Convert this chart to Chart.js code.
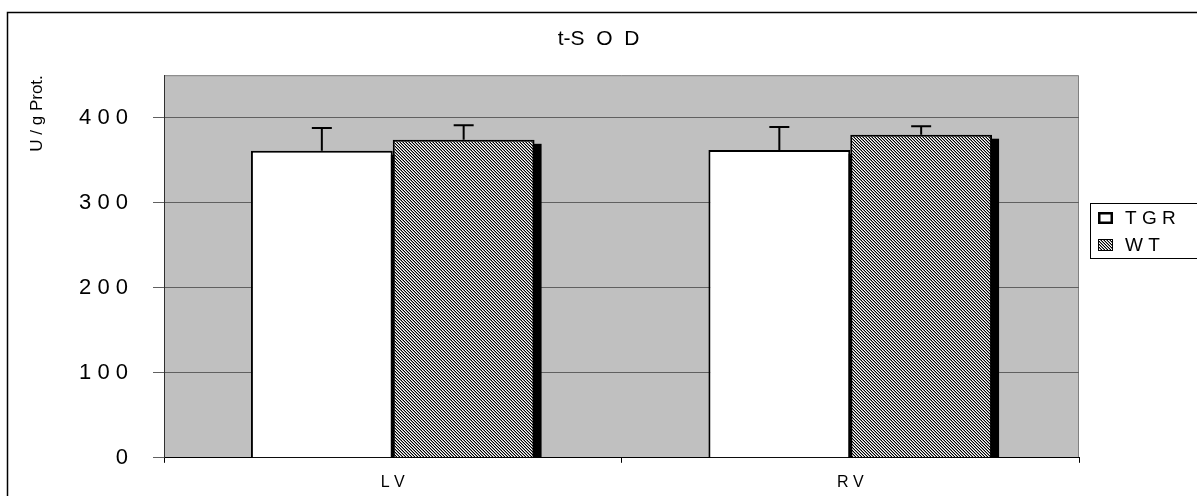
<!DOCTYPE html>
<html>
<head>
<meta charset="utf-8">
<script src="https://cdn.jsdelivr.net/npm/chart.js@4.4.1/dist/chart.umd.min.js"></script>
<style>
  html, body { margin: 0; padding: 0; background: #fff; }
  #wrap { width: 1197px; height: 496px; }
</style>
</head>
<body>
<div id="wrap"><canvas id="chart" width="1197" height="496"></canvas></div>
<script>
// values
const categories = ['L V', 'R V'];
const seriesNames = ['T G R', 'W T'];
const tgrValues = [361, 362];
const tgrErrors = [27, 27];
const wtValues = [374, 380];
const wtErrors = [17, 10];
const yTickValues = [0, 100, 200, 300, 400];
const yTickLabels = ['0', '1 0 0', '2 0 0', '3 0 0', '4 0 0'];
const yMax = 450;

const FONT = 'Liberation Sans, Arial, sans-serif';

// diagonal hatch like the old excel fill
function makeHatch() {
    const c = document.createElement('canvas');
    c.width = 3; c.height = 3;
    const g = c.getContext('2d');
    for (let y = 0; y < 3; y++) {
        for (let x = 0; x < 3; x++) {
            const k = ((x - y) % 3 + 3) % 3;
            g.fillStyle = k === 0 ? '#000' : (k === 1 ? '#fff' : '#909090');
            g.fillRect(x, y, 1, 1);
        }
    }
    return g.createPattern(c, 'repeat');
}
const hatch = makeHatch();

const errors = [tgrErrors, wtErrors];

const framePlugin = {
    id: 'frame',
    beforeDraw(chart) {
        const { ctx, chartArea: a } = chart;
        ctx.save();
        ctx.fillStyle = '#c0c0c0';
        ctx.fillRect(a.left, a.top, a.right - a.left, a.bottom - a.top);
        ctx.strokeStyle = '#808080';
        ctx.lineWidth = 1;
        ctx.beginPath();
        ctx.moveTo(a.left, a.top + 0.5);
        ctx.lineTo(a.right - 0.5, a.top + 0.5);
        ctx.lineTo(a.right - 0.5, a.bottom);
        ctx.stroke();
        ctx.restore();
    },
    beforeDatasetsDraw(chart) {
        // drop shadow behind the bars
        const { ctx, chartArea: a } = chart;
        ctx.save();
        ctx.beginPath();
        ctx.rect(a.left, a.top, a.right - a.left, a.bottom - a.top);
        ctx.clip();
        ctx.fillStyle = '#000';
        chart.data.datasets.forEach((ds, i) => {
            chart.getDatasetMeta(i).data.forEach(bar => {
                const p = bar.getProps(['x', 'y', 'base', 'width'], true);
                ctx.fillRect(p.x - p.width / 2 + 7, p.y + 4, p.width, p.base - p.y);
            });
        });
        ctx.restore();
    },
    afterDatasetsDraw(chart) {
        const { ctx } = chart;
        const yScale = chart.scales.y;
        ctx.save();
        ctx.strokeStyle = '#000';
        ctx.lineWidth = 2;
        chart.data.datasets.forEach((ds, i) => {
            chart.getDatasetMeta(i).data.forEach((bar, j) => {
                const p = bar.getProps(['x', 'y'], true);
                const top = yScale.getPixelForValue(ds.data[j] + errors[i][j]);
                ctx.beginPath();
                ctx.moveTo(p.x, p.y);
                ctx.lineTo(p.x, top);
                ctx.moveTo(p.x - 10, top);
                ctx.lineTo(p.x + 10, top);
                ctx.stroke();
            });
        });
        ctx.restore();
    },
    afterDraw(chart) {
        const { ctx } = chart;
        ctx.save();
        // outer border
        ctx.strokeStyle = '#000';
        ctx.lineWidth = 1.5;
        ctx.beginPath();
        ctx.moveTo(7.5, 500);
        ctx.lineTo(7.5, 12.5);
        ctx.lineTo(1200, 12.5);
        ctx.stroke();

        // legend
        ctx.lineWidth = 1;
        ctx.strokeRect(1090.5, 203.5, 110, 55);
        const fills = ['#fff', hatch];
        ctx.font = '19px ' + FONT;
        ctx.textBaseline = 'middle';
        ctx.textAlign = 'left';
        seriesNames.forEach((name, i) => {
            const y = 212 + i * 27;
            ctx.fillStyle = fills[i];
            ctx.fillRect(1098, y, 15, 12);
            ctx.lineWidth = i === 0 ? 2.5 : 1;
            ctx.strokeRect(1098 + ctx.lineWidth / 2, y + ctx.lineWidth / 2, 15 - ctx.lineWidth, 12 - ctx.lineWidth);
            ctx.fillStyle = '#000';
            ctx.fillText(name, 1125, y + 7);
        });
        ctx.restore();
    }
};

const ctx = document.getElementById('chart').getContext('2d');
new Chart(ctx, {
    type: 'bar',
    data: {
        labels: categories,
        datasets: [
            {
                label: seriesNames[0],
                data: tgrValues,
                backgroundColor: '#ffffff',
                borderColor: '#000',
                borderWidth: 2,
                borderSkipped: 'bottom',
            },
            {
                label: seriesNames[1],
                data: wtValues,
                backgroundColor: hatch,
                borderColor: '#000',
                borderWidth: 2,
                borderSkipped: 'bottom',
            },
        ],
    },
    options: {
        responsive: false,
        animation: false,
        layout: { padding: 0 },
        categoryPercentage: 0.62,
        barPercentage: 1,
        plugins: {
            legend: { display: false },
            tooltip: { enabled: false },
            title: {
                display: true,
                text: 't-S  O  D',
                color: '#000',
                font: { family: FONT, size: 21, weight: 'normal' },
                padding: { top: 27, bottom: 23 },
            },
        },
        scales: {
            x: {
                grid: { display: true, drawOnChartArea: false, drawTicks: true, tickLength: 5, color: '#000' },
                border: { display: true, color: '#000', width: 1 },
                ticks: { color: '#000', font: { family: FONT, size: 16 }, padding: 10, maxRotation: 0 },
                afterFit(scale) { scale.height = 36; },
            },
            y: {
                min: 0,
                max: yMax,
                afterBuildTicks(scale) {
                    scale.ticks = yTickValues.map(v => ({ value: v }));
                },
                grid: { color: '#606060', tickLength: 11, tickColor: '#606060' },
                border: { display: true, color: '#303030', width: 1 },
                ticks: {
                    color: '#000',
                    font: { family: FONT, size: 22 },
                    padding: 25,
                    callback: (v, i) => yTickLabels[i],
                },
                title: {
                    display: true,
                    text: 'U / g Prot.',
                    align: 'end',
                    color: '#000',
                    font: { family: FONT, size: 17 },
                    padding: { top: 27, bottom: 0 },
                },
                afterFit(scale) { scale.width = 164; },
            },
            right: {
                position: 'right',
                display: true,
                grid: { display: false },
                border: { display: false },
                ticks: { display: false },
                afterFit(scale) { scale.width = 118; },
            },
        },
    },
    plugins: [framePlugin],
});
</script>
</body>
</html>
